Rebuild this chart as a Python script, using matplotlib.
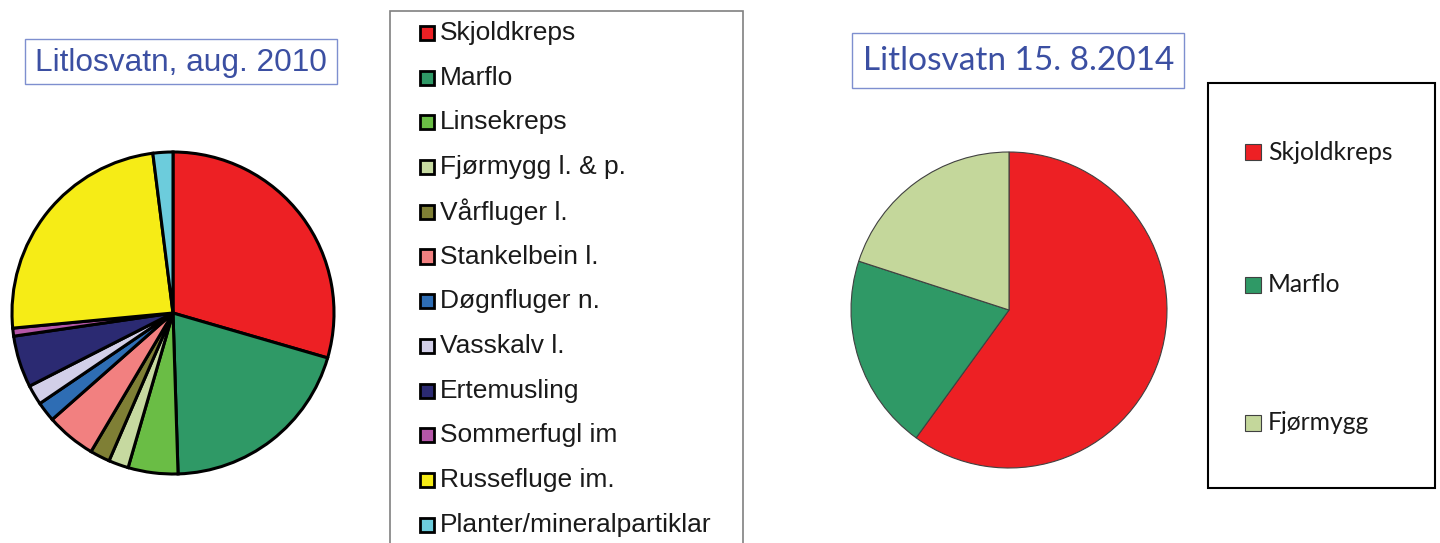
import matplotlib
matplotlib.use("Agg")
from matplotlib import pyplot as plt
from matplotlib.patches import Rectangle

# 2010 sample
labels_2010 = ["Skjoldkreps", "Marflo", "Linsekreps", "Fjørmygg l. & p.", "Vårfluger l.",
               "Stankelbein l.", "Døgnfluger n.", "Vasskalv l.", "Ertemusling",
               "Sommerfugl im", "Russefluge im.", "Planter/mineralpartiklar"]
values_2010 = [29.5, 20.0, 5.0, 2.0, 2.0, 5.0, 2.0, 2.0, 5.2, 0.8, 24.5, 2.0]
colors_2010 = ["#ED2024", "#2F9966", "#6ABD45", "#C6D9A0", "#7F7F35", "#F28080",
               "#2E6DB4", "#D2CFE8", "#2B2A72", "#B556A8", "#F6EC16", "#6CCCDC"]

# 2014 sample
labels_2014 = ["Skjoldkreps", "Marflo", "Fjørmygg"]
values_2014 = [60, 20, 20]
colors_2014 = ["#ED2024", "#2F9966", "#C4D79B"]

W, H = 1440, 543
fig = plt.figure(figsize=(W / 100, H / 100), dpi=100)


def px_axes(cx, cy, r):
    # square axes centred on pixel (cx, cy) measured from top-left
    return fig.add_axes([(cx - r) / W, (H - cy - r) / H, 2 * r / W, 2 * r / H])


def px(x, y):
    return x / W, (H - y) / H


def px_box(left, top, right, bottom, **kw):
    x0, y0 = px(left, bottom)
    x1, y1 = px(right, top)
    fig.patches.append(Rectangle((x0, y0), x1 - x0, y1 - y0,
                                 transform=fig.transFigure, **kw))


# left pie
ax1 = px_axes(173, 313, 161)
ax1.pie(values_2010, colors=colors_2010, startangle=90, counterclock=False, radius=1,
        wedgeprops=dict(edgecolor="black", linewidth=2.2))
ax1.set_xlim(-1, 1)
ax1.set_ylim(-1, 1)
ax1.axis("off")

# right pie
ax2 = px_axes(1009, 310, 158)
ax2.pie(values_2014, colors=colors_2014, startangle=90, counterclock=False, radius=1,
        wedgeprops=dict(edgecolor="#404040", linewidth=0.8))
ax2.set_xlim(-1, 1)
ax2.set_ylim(-1, 1)
ax2.axis("off")

# titles
px_box(25, 39, 337, 84, fc="white", ec="#7E8FCF", lw=1)
fig.text(*px(181, 63), "Litlosvatn, aug. 2010", fontsize=22.8, color="#3B4FA2",
         family="Liberation Sans", ha="center", va="center")
px_box(852, 33, 1184, 88, fc="white", ec="#7E8FCF", lw=1)
fig.text(*px(1019, 61), "Litlosvatn 15. 8.2014", fontsize=24, color="#3B4FA2",
         family="Lato", ha="center", va="center")

# left legend
px_box(390, 11, 743, 560, fc="white", ec="#808080", lw=1.2)
for i, (lab, col) in enumerate(zip(labels_2010, colors_2010)):
    yc = 33 + i * 44.7
    px_box(420, yc - 7, 434, yc + 7, fc=col, ec="black", lw=2)
    fig.text(*px(440, yc), lab, fontsize=19, family="Liberation Sans",
             color="#1A1A1A", ha="left", va="center")

# right legend
px_box(1208, 83, 1435, 488, fc="white", ec="black", lw=1.5)
for lab, col, yc in zip(labels_2014, colors_2014, [152, 285, 423]):
    px_box(1245, yc - 8, 1261, yc + 8, fc=col, ec="#404040", lw=0.8)
    fig.text(*px(1268, yc), lab, fontsize=17.7, family="Lato",
             color="#1A1A1A", ha="left", va="center")

fig.savefig("out.png", dpi=100, facecolor="white")
